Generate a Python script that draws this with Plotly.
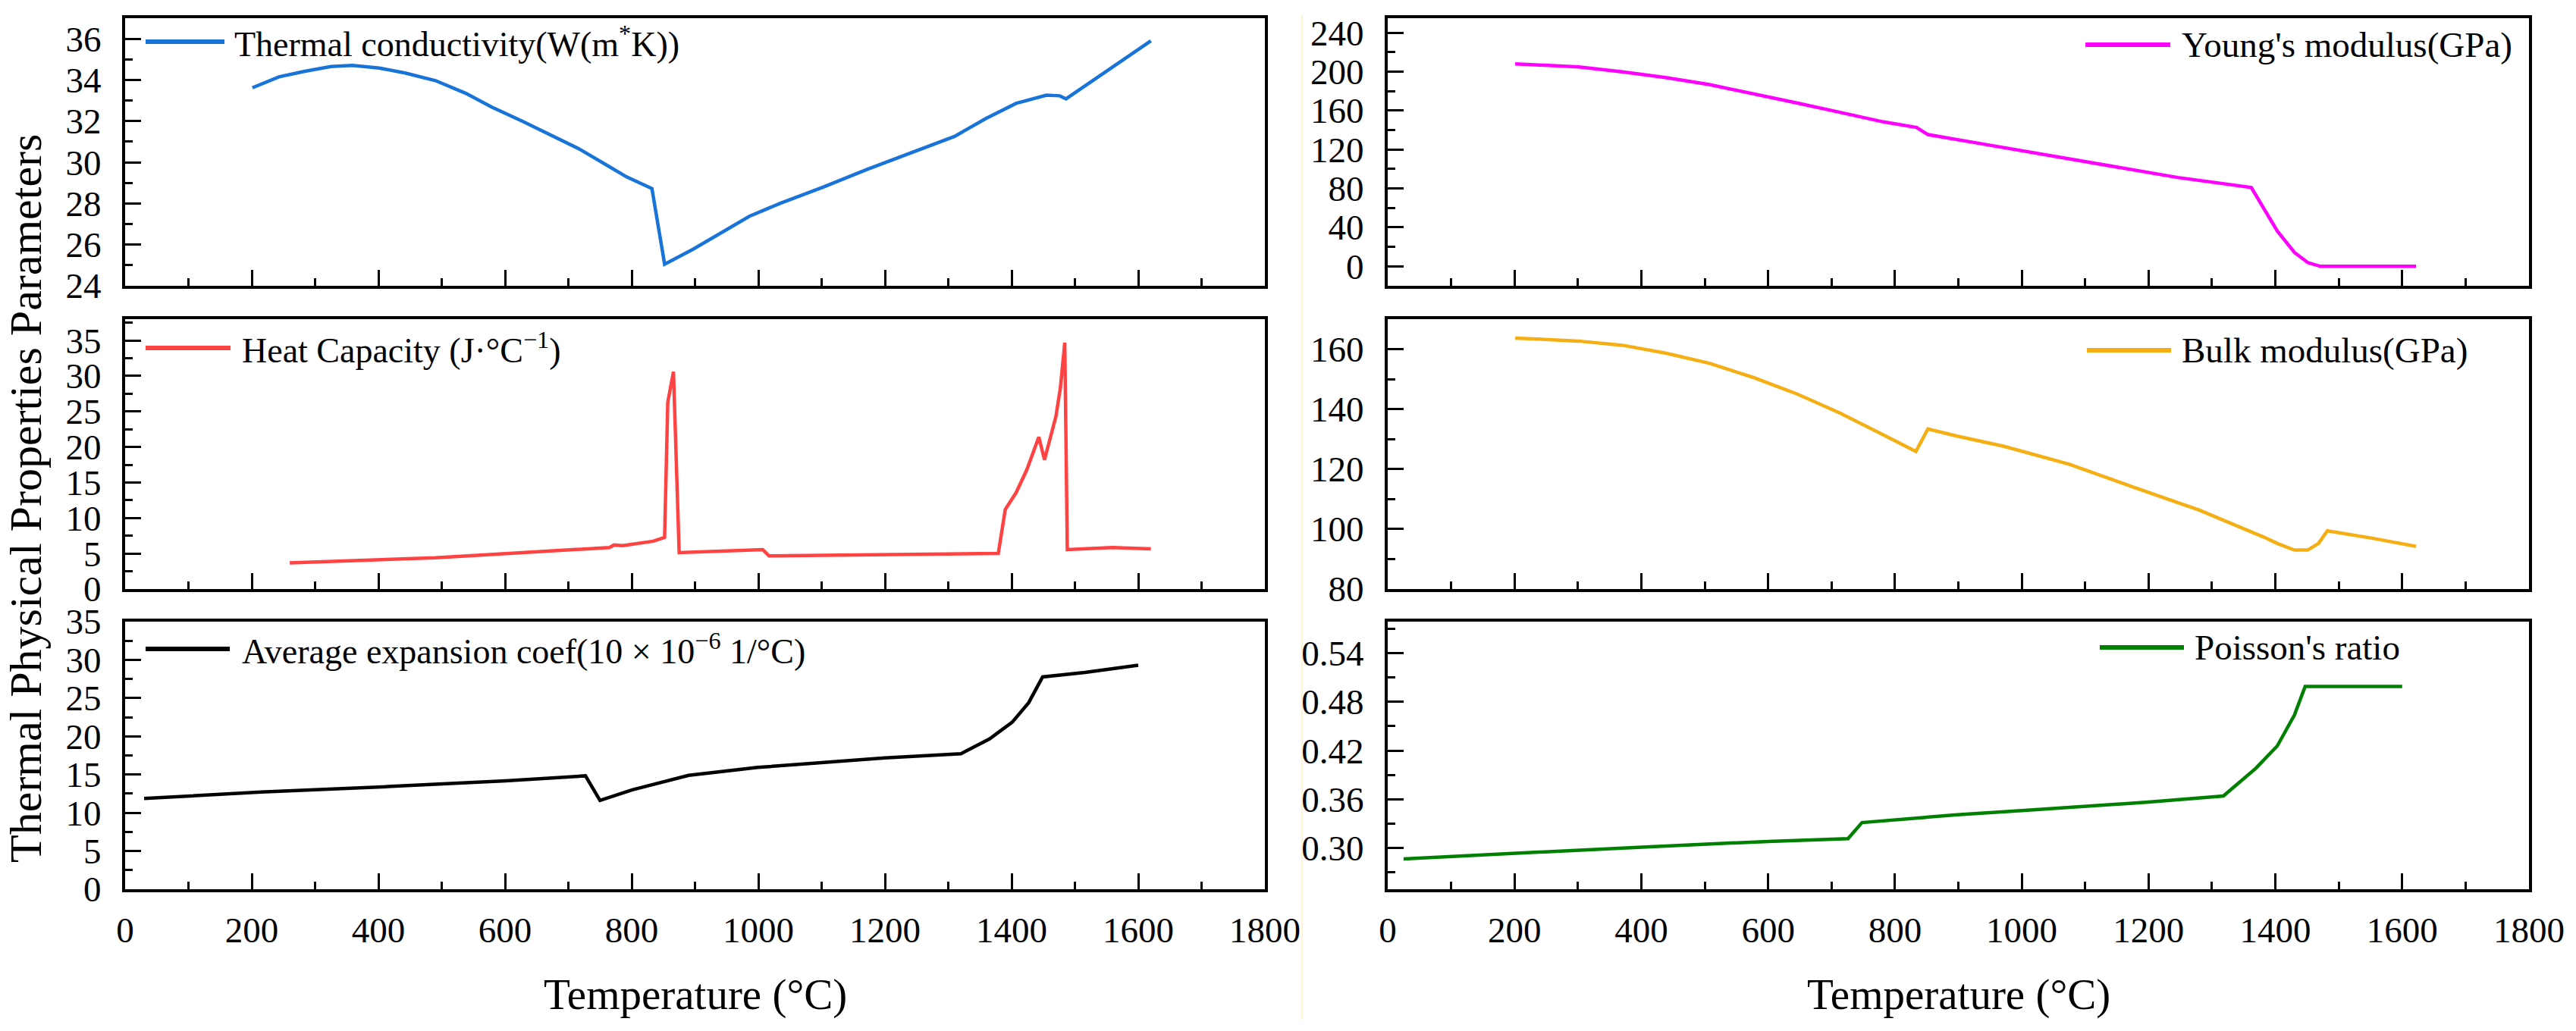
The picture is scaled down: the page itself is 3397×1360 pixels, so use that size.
import plotly.graph_objects as go

W, H = 3397, 1360
FONT = "Liberation Serif, Times New Roman, serif"

# ---------------- data ----------------
thermal_T = [201, 243, 284, 325, 359, 401, 442, 490, 538, 579, 627, 676, 717, 765, 792, 832,
             852, 897, 941, 986, 1034, 1103, 1172, 1241, 1310, 1359, 1407, 1455, 1476, 1486, 1552, 1620]
thermal_k = [33.62, 34.15, 34.42, 34.65, 34.71, 34.58, 34.34, 33.97, 33.35, 32.68, 32.0, 31.26, 30.65,
             29.78, 29.29, 28.72, 25.05, 25.78, 26.58, 27.38, 28.0, 28.8, 29.66, 30.46, 31.26, 32.12,
             32.86, 33.26, 33.23, 33.08, 34.46, 35.9]

heat_T = [260, 353, 490, 627, 717, 765, 772, 786, 834, 852, 857, 866, 875, 1007, 1017, 1379, 1390,
          1407, 1424, 1433, 1443, 1452, 1462, 1470, 1477, 1484, 1488, 1559, 1620]
heat_cp = [3.69, 3.94, 4.41, 5.13, 5.67, 5.85, 6.2, 6.1, 6.74, 7.28, 26.3, 30.6, 5.13, 5.56, 4.66,
           5.02, 11.2, 13.55, 16.78, 18.9, 21.4, 18.2, 21.4, 24.3, 28.3, 34.7, 5.56, 5.85, 5.67]

exp_T = [30, 215, 421, 601, 727, 750, 801, 890, 999, 1103, 1200, 1320, 1365, 1401, 1427, 1449, 1516, 1600]
exp_v = [11.87, 12.71, 13.45, 14.18, 14.83, 11.62, 13.0, 14.9, 15.93, 16.55, 17.17, 17.72, 19.66,
         21.85, 24.4, 27.77, 28.35, 29.3]

young_T = [201, 301, 370, 438, 507, 576, 645, 713, 782, 834, 852, 938, 1040, 1143, 1246, 1362,
           1382, 1403, 1430, 1451, 1471, 1622]
young_E = [208.1, 205, 199.8, 194.1, 186.8, 177.7, 167.9, 158.3, 148.4, 142.7, 135.4, 125.8, 114.2,
           102.5, 91.3, 81.0, 58.4, 36.3, 14.3, 3.9, 0, 0]

bulk_T = [201, 301, 370, 438, 507, 576, 645, 713, 782, 833, 852, 898, 972, 1075, 1177, 1280, 1382,
          1403, 1430, 1451, 1468, 1482, 1554, 1622]
bulk_K = [163.7, 162.7, 161.3, 158.7, 155.3, 150.6, 145.1, 138.7, 131.4, 125.9, 133.4, 131.0, 127.6,
          121.6, 113.9, 106.3, 97.3, 95.2, 93.0, 93.0, 95.2, 99.4, 96.9, 94.2]

pois_T = [25, 200, 401, 600, 726, 748, 898, 1000, 1200, 1318, 1369, 1403, 1430, 1447, 1600]
pois_v = [0.2865, 0.2934, 0.301, 0.308, 0.3114, 0.3312, 0.3409, 0.346, 0.3564, 0.364, 0.398,
          0.4257, 0.4638, 0.4991, 0.4991]

series_names = ["Thermal conductivity(W(m<sup>*</sup>K))",
                "Heat Capacity (J·°C<sup>−1</sup>)",
                "Average expansion coef(10 × 10<sup>−6</sup> 1/°C)",
                "Young's modulus(GPa)",
                "Bulk modulus(GPa)",
                "Poisson's ratio"]
colors = ["#1874D8", "#FF4242", "#000000", "#FF00FF", "#F5AF14", "#008000"]

x_title = "Temperature (°C)"
y_title = "Thermal Physical Properties Parameters"


def px_x(p):
    return p / W


def px_y(p):
    return 1 - p / H


LEFT = [px_x(165), px_x(1668)]
RIGHT = [px_x(1830), px_x(3335)]
ROWS = [[px_y(377), px_y(24)], [px_y(777), px_y(421)], [px_y(1173), px_y(820)]]

fig = go.Figure()

data = [(thermal_T, thermal_k), (heat_T, heat_cp), (exp_T, exp_v),
        (young_T, young_E), (bulk_T, bulk_K), (pois_T, pois_v)]

for i, (xs, ys) in enumerate(data):
    n = "" if i == 0 else str(i + 1)
    fig.add_trace(go.Scatter(x=xs, y=ys, mode="lines", name=series_names[i],
                             line=dict(color=colors[i], width=4.5),
                             xaxis="x" + n, yaxis="y" + n, showlegend=False,
                             hoverinfo="skip"))

tickfont = dict(family=FONT, size=47, color="black")


def xcfg(domain, anchor, labels):
    return dict(domain=domain, anchor=anchor, range=[0, 1800], tick0=0, dtick=200,
                ticks="inside", ticklen=21, tickwidth=3, tickcolor="black",
                minor=dict(dtick=100, tick0=0, ticks="inside", ticklen=10, tickwidth=3,
                           tickcolor="black", showgrid=False),
                showline=True, linewidth=4, linecolor="black", mirror=True,
                showgrid=False, zeroline=False, showticklabels=labels, automargin=False,
                tickfont=tickfont, ticklabelstandoff=10)


def ycfg(domain, anchor, rng, tick0, dtick, mdtick, fmt=None):
    d = dict(domain=domain, anchor=anchor, range=rng, tick0=tick0, dtick=dtick,
             ticks="inside", ticklen=21, tickwidth=3, tickcolor="black",
             minor=dict(dtick=mdtick, tick0=tick0, ticks="inside", ticklen=10, tickwidth=3,
                        tickcolor="black", showgrid=False),
             showline=True, linewidth=4, linecolor="black", mirror=True, automargin=False,
             showgrid=False, zeroline=False, tickfont=tickfont, ticklabelstandoff=18)
    if fmt:
        d["tickformat"] = fmt
    return d


layout = dict(
    width=W, height=H, margin=dict(l=0, r=0, t=0, b=0, pad=0, autoexpand=False),
    paper_bgcolor="white", plot_bgcolor="white", showlegend=False,
    xaxis=xcfg(LEFT, "y", False),
    xaxis2=xcfg(LEFT, "y2", False),
    xaxis3=xcfg(LEFT, "y3", True),
    xaxis4=xcfg(RIGHT, "y4", False),
    xaxis5=xcfg(RIGHT, "y5", False),
    xaxis6=xcfg(RIGHT, "y6", True),
    yaxis=ycfg(ROWS[0], "x", [24, 37], 24, 2, 1),
    yaxis2=ycfg(ROWS[1], "x2", [0, 38], 0, 5, 2.5),
    yaxis3=ycfg(ROWS[2], "x3", [0, 35], 0, 5, 2.5),
    yaxis4=ycfg(ROWS[0], "x4", [-20, 255], 0, 40, 20),
    yaxis5=ycfg(ROWS[1], "x5", [80, 170], 80, 20, 10),
    yaxis6=ycfg(ROWS[2], "x6", [0.249, 0.579], 0.30, 0.06, 0.03, ".2f"),
)
fig.update_layout(**layout)

# legend keys: (line x0, line x1, y, text x) in pixel positions of the reference
legend_pos = [(192, 296, 55, 307), (192, 304, 459, 317), (192, 303, 856, 317),
              (2750, 2862, 59, 2875), (2752, 2863, 462, 2875), (2769, 2880, 854, 2892)]

shapes = []
annotations = []
for i, (lx0, lx1, ly, tx) in enumerate(legend_pos):
    shapes.append(dict(type="line", xref="paper", yref="paper",
                       x0=px_x(lx0), x1=px_x(lx1), y0=px_y(ly), y1=px_y(ly),
                       line=dict(color=colors[i], width=6)))
    annotations.append(dict(xref="paper", yref="paper", x=px_x(tx), y=px_y(ly),
                            xanchor="left", yanchor="middle", showarrow=False,
                            text=series_names[i],
                            font=dict(family=FONT, size=47 if i >= 3 else 46, color="black")))

# faint separator line between the two columns
shapes.append(dict(type="line", xref="paper", yref="paper", x0=px_x(1717), x1=px_x(1717),
                   y0=px_y(1345), y1=px_y(20), line=dict(color="#FDF5D6", width=2)))

# axis titles
annotations.append(dict(xref="paper", yref="paper", x=px_x(34), y=px_y(658), textangle=-90,
                        xanchor="center", yanchor="middle", showarrow=False, text=y_title,
                        font=dict(family=FONT, size=60, color="black")))
for cx in [(165 + 1668) / 2, (1830 + 3335) / 2]:
    annotations.append(dict(xref="paper", yref="paper", x=px_x(cx), y=px_y(1312),
                            xanchor="center", yanchor="middle", showarrow=False, text=x_title,
                            font=dict(family=FONT, size=57, color="black")))

fig.update_layout(shapes=shapes, annotations=annotations)

fig.write_html("out.html")
